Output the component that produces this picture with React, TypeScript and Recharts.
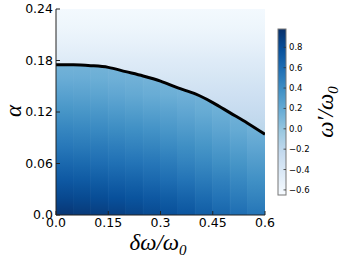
import React from 'react';
import { ComposedChart, Line, Area, XAxis, YAxis, ReferenceArea } from 'recharts';

const xTicks = [0, 0.15, 0.3, 0.45, 0.6];
const yTicks = [0, 0.06, 0.12, 0.18, 0.24];
const colorbarTicks = [0.8, 0.6, 0.4, 0.2, 0.0, -0.2, -0.4, -0.6];

// heat map columns (delta omega / omega0 edges)
const colEdges = [0, 0.05, 0.1, 0.15, 0.2, 0.25, 0.3, 0.35, 0.4, 0.45, 0.5, 0.55, 0.6];
// alpha levels where the field below the curve was read
const fieldAlpha = [0, 0.02, 0.04, 0.06, 0.08, 0.1, 0.12, 0.14, 0.16, 0.18];

// omega'/omega0 below the curve, one row per alpha level, one value per column
const fieldRows = [
  [0.94, 0.92, 0.90, 0.88, 0.85, 0.82, 0.79, 0.75, 0.70, 0.65, 0.60, 0.55],
  [0.83, 0.82, 0.80, 0.78, 0.76, 0.73, 0.70, 0.66, 0.61, 0.56, 0.51, 0.46],
  [0.73, 0.72, 0.70, 0.68, 0.66, 0.63, 0.60, 0.56, 0.52, 0.48, 0.43, 0.38],
  [0.63, 0.62, 0.60, 0.58, 0.56, 0.54, 0.51, 0.47, 0.43, 0.39, 0.35, 0.30],
  [0.53, 0.52, 0.51, 0.49, 0.47, 0.45, 0.42, 0.39, 0.35, 0.31, 0.27, 0.22],
  [0.44, 0.43, 0.42, 0.40, 0.38, 0.36, 0.33, 0.30, 0.27, 0.23, 0.19, 0.15],
  [0.35, 0.34, 0.33, 0.31, 0.29, 0.27, 0.25, 0.22, 0.19, 0.16, 0.14, 0.13],
  [0.26, 0.25, 0.24, 0.22, 0.20, 0.18, 0.16, 0.15, 0.14, 0.13, 0.12, 0.12],
  [0.17, 0.17, 0.16, 0.15, 0.14, 0.13, 0.12, 0.12, 0.12, 0.12, 0.12, 0.12],
  [0.12, 0.12, 0.12, 0.12, 0.12, 0.12, 0.12, 0.12, 0.12, 0.12, 0.12, 0.12],
];

// omega'/omega0 above the curve, fading to white toward alpha = 0.24
const aboveAlpha = [0.24, 0.22, 0.2, 0.18, 0.16, 0.14, 0.12, 0.1];
const aboveValue = [-0.62, -0.58, -0.52, -0.45, -0.38, -0.31, -0.24, -0.19];

// black boundary curve
const curveX = [0, 0.05, 0.1, 0.15, 0.2, 0.25, 0.3, 0.35, 0.4, 0.45, 0.5, 0.55, 0.6];
const curveAlpha = [0.175, 0.175, 0.174, 0.172, 0.167, 0.162, 0.156, 0.148, 0.141, 0.131, 0.119, 0.107, 0.094];

const A_MAX = 0.24;
const V_MIN = -0.65;
const V_MAX = 0.98;

const bluesStops = ['#f7fbff', '#deebf7', '#c6dbef', '#9ecae1', '#6baed6', '#4292c6', '#2171b5', '#08519c', '#08306b'];

const hexToRgb = (h: string) => [parseInt(h.slice(1, 3), 16), parseInt(h.slice(3, 5), 16), parseInt(h.slice(5, 7), 16)];

const blues = (v: number) => {
  const t = Math.min(1, Math.max(0, (v - V_MIN) / (V_MAX - V_MIN)));
  const p = t * (bluesStops.length - 1);
  const i = Math.min(bluesStops.length - 2, Math.floor(p));
  const f = p - i;
  const a = hexToRgb(bluesStops[i]);
  const b = hexToRgb(bluesStops[i + 1]);
  const c = a.map((q, k) => Math.round(q + (b[k] - q) * f));
  return `rgb(${c[0]},${c[1]},${c[2]})`;
};

const curveData = curveX.map((x, i) => ({ x, a: curveAlpha[i], band: [curveAlpha[i], A_MAX] }));
const curveMin = Math.min(...curveAlpha);

const fmt = (v: number) => (v === 0 ? '0.0' : String(v));
const tickFont = { fontSize: 12.5, fill: '#000', fontFamily: 'DejaVu Sans' };
const serif = 'Liberation Serif, DejaVu Serif, serif';

// colorbar geometry
const cbX = 278;
const cbTop = 29;
const cbH = 166;
const cbW = 8;
const cbY = (v: number) => cbTop + cbH - ((v - V_MIN) / (V_MAX - V_MIN)) * cbH;

const App: React.FC = () => {
  return (
    <div style={{ position: 'absolute', left: 0, top: 0, width: 340, height: 262, background: '#fff' }}>
      <ComposedChart width={340} height={262} data={curveData} margin={{ top: 9, right: 75, bottom: 0, left: 10 }}>
        <defs>
          {colEdges.slice(0, -1).map((_, c) => (
            <linearGradient key={c} id={`col-${c}`} x1="0" y1="0" x2="0" y2="1">
              {fieldAlpha
                .map((a, r) => ({ a, v: fieldRows[r][c] }))
                .reverse()
                .map(({ a, v }) => (
                  <stop key={a} offset={(A_MAX - a) / A_MAX} stopColor={blues(v)} />
                ))}
            </linearGradient>
          ))}
          <linearGradient id="above" x1="0" y1="0" x2="0" y2="1">
            {aboveAlpha.map((a, i) => (
              <stop key={a} offset={(A_MAX - a) / (A_MAX - curveMin)} stopColor={blues(aboveValue[i])} />
            ))}
          </linearGradient>
        </defs>
        <XAxis
          dataKey="x"
          type="number"
          domain={[0, 0.6]}
          ticks={xTicks}
          tickFormatter={fmt}
          height={47}
          tick={tickFont}
          tickSize={-4}
          tickMargin={7}
          stroke="#222"
          allowDataOverflow
        />
        <XAxis
          xAxisId="top"
          orientation="top"
          dataKey="x"
          type="number"
          domain={[0, 0.6]}
          ticks={xTicks}
          height={0}
          tick={false}
          tickSize={-4}
          stroke="#222"
        />
        <YAxis
          type="number"
          domain={[0, A_MAX]}
          ticks={yTicks}
          tickFormatter={fmt}
          width={46}
          tick={tickFont}
          tickSize={-4}
          tickMargin={7}
          stroke="#222"
          allowDataOverflow
        />
        <YAxis
          yAxisId="right"
          orientation="right"
          type="number"
          domain={[0, A_MAX]}
          ticks={yTicks}
          width={0}
          tick={false}
          tickSize={-4}
          stroke="#222"
        />
        {colEdges.slice(0, -1).map((x1, c) => (
          <ReferenceArea
            key={`col-${c}`}
            x1={x1}
            x2={colEdges[c + 1]}
            y1={0}
            y2={A_MAX}
            fill={`url(#col-${c})`}
            fillOpacity={1}
            stroke={`url(#col-${c})`}
            strokeWidth={0.8}
            ifOverflow="hidden"
          />
        ))}
        <Area
          dataKey="band"
          type="monotone"
          fill="url(#above)"
          fillOpacity={1}
          stroke="none"
          isAnimationActive={false}
        />
        <Line
          dataKey="a"
          type="monotone"
          stroke="#000"
          strokeWidth={3}
          dot={false}
          isAnimationActive={false}
        />
      </ComposedChart>
      <svg width={340} height={262} style={{ position: 'absolute', left: 0, top: 0, pointerEvents: 'none' }}>
        <defs>
          <linearGradient id="cbGrad" x1="0" y1="1" x2="0" y2="0">
            {bluesStops.map((c, i) => (
              <stop key={c} offset={i / (bluesStops.length - 1)} stopColor={c} />
            ))}
          </linearGradient>
        </defs>
        <rect x={cbX} y={cbTop} width={cbW} height={cbH} fill="url(#cbGrad)" stroke="#777" strokeWidth={1} />
        {colorbarTicks.map((t) => (
          <g key={t}>
            <line x1={cbX + cbW - 2.5} x2={cbX + cbW} y1={cbY(t)} y2={cbY(t)} stroke="#333" strokeWidth={0.8} />
            <text x={cbX + cbW + 3} y={cbY(t)} dy="0.35em" fontSize={8.5} fontFamily="DejaVu Sans" fill="#000">
              {t < 0 ? `\u2212${Math.abs(t).toFixed(1)}` : t.toFixed(1)}
            </text>
          </g>
        ))}
        <text
          x={0}
          y={0}
          transform="translate(325,112) rotate(-90)"
          textAnchor="middle"
          dy="0.35em"
          fontSize={23}
          fontStyle="italic"
          fontFamily={serif}
          fill="#000"
        >
          {'\u03c9\u2032/\u03c9'}
          <tspan fontSize={15} dy="5">0</tspan>
        </text>
        <text
          x={0}
          y={0}
          transform="translate(13,111) rotate(-90)"
          textAnchor="middle"
          dy="0.35em"
          fontSize={23}
          fontStyle="italic"
          fontFamily={serif}
          fill="#000"
        >
          {'\u03b1'}
        </text>
        <text x={158} y={250} textAnchor="middle" fontSize={23} fontStyle="italic" fontFamily={serif} fill="#000">
          {'\u03b4\u03c9/\u03c9'}
          <tspan fontSize={15} dy="5">0</tspan>
        </text>
      </svg>
    </div>
  );
};

export default App;
